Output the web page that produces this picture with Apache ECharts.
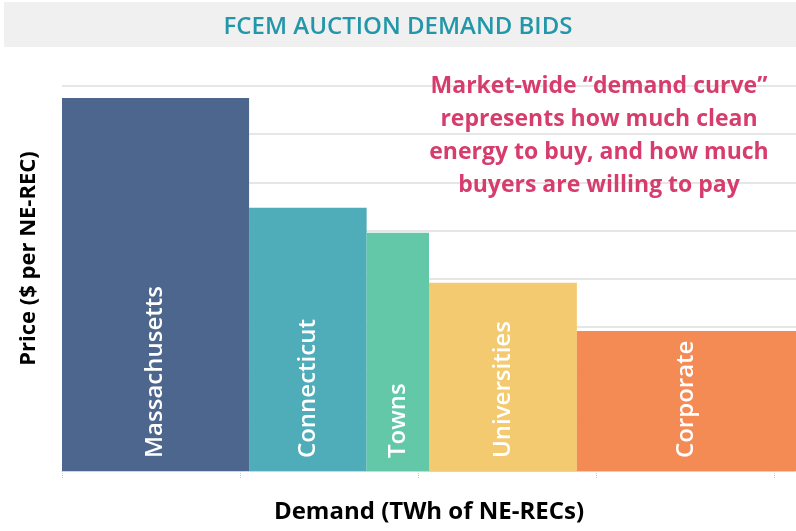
<!DOCTYPE html>
<html>
<head>
<meta charset="utf-8">
<script src="https://cdn.jsdelivr.net/npm/echarts@6/dist/echarts.min.js"></script>
<style>
  html, body { margin: 0; padding: 0; background: #fff; }
  #chart { width: 796px; height: 531px; }
</style>
</head>
<body>
<div id="chart"></div>
<script>
// buyers, left to right along the demand curve
const buyers = ['Massachusetts', 'Connecticut', 'Towns', 'Universities', 'Corporate']
// demand (width of each block) and price (height)
const demand = [1.05, 0.66, 0.35, 0.83, 1.23]
const price = [7.75, 5.47, 4.95, 3.91, 2.91]
const colors = ['#46618A', '#49AAB7', '#5DC6A5', '#F3C86B', '#F4864E']

// build [start, end, price, index] rows from the demand widths
let acc = 0
const rows = demand.map((d, i) => {
  const row = [acc, acc + d, price[i], i]
  acc += d
  return row
})

const chart = echarts.init(document.getElementById('chart'))

const option = {
  animation: false,
  title: {
    text: 'FCEM AUCTION DEMAND BIDS',
    left: 'center',
    top: 10,
    textStyle: {
      color: '#2197A9',
      fontFamily: 'Open Sans',
      fontWeight: 600,
      fontSize: 24
    }
  },
  graphic: [
    {
      type: 'rect',
      z: -10,
      shape: { x: 4, y: 2, width: 792, height: 45 },
      style: { fill: '#F0F0F0' }
    },
    {
      type: 'text',
      x: 599,
      y: 70,
      z: 10,
      style: {
        text: 'Market-wide \u201cdemand curve\u201d\nrepresents how much clean\nenergy to buy, and how much\nbuyers are willing to pay',
        fill: '#D63C6E',
        font: 'bold 23px "Open Sans"',
        align: 'center',
        verticalAlign: 'top',
        lineHeight: 33
      }
    }
  ],
  grid: {
    left: 62,
    right: 0,
    top: 86,
    bottom: 60
  },
  xAxis: {
    type: 'value',
    min: 0,
    max: 4.12,
    interval: 1,
    name: 'Demand (TWh of NE-RECs)',
    nameLocation: 'middle',
    nameGap: 29,
    nameTextStyle: {
      color: '#000',
      fontFamily: 'Open Sans',
      fontWeight: 'bold',
      fontSize: 24
    },
    axisLine: { show: true, lineStyle: { color: '#D0D0D0', type: 'dotted' } },
    axisTick: { show: true, length: 8, lineStyle: { color: '#C8C8C8', type: 'dotted' } },
    axisLabel: { show: false },
    splitLine: { show: false }
  },
  yAxis: {
    type: 'value',
    min: 0,
    max: 8,
    interval: 1,
    name: 'Price ($ per NE-REC)',
    nameLocation: 'middle',
    nameGap: 22,
    nameTextStyle: {
      color: '#000',
      fontFamily: 'Open Sans',
      fontWeight: 'bold',
      fontSize: 22,
      padding: [0, 0, 0, 40]
    },
    axisLine: { show: false },
    axisTick: { show: false },
    axisLabel: { show: false },
    splitLine: { lineStyle: { color: '#E6E6E6', width: 2 } }
  },
  series: [
    {
      type: 'custom',
      data: rows,
      encode: { x: [0, 1], y: 2 },
      renderItem: (params, api) => {
        const p0 = api.coord([api.value(0), api.value(2)])
        const p1 = api.coord([api.value(1), 0])
        const i = api.value(3)
        const cx = (p0[0] + p1[0]) / 2
        return {
          type: 'group',
          children: [
            {
              type: 'rect',
              shape: { x: p0[0], y: p0[1], width: p1[0] - p0[0], height: p1[1] - p0[1] },
              style: { fill: colors[i], opacity: 0.97 }
            },
            {
              type: 'text',
              x: cx,
              y: p1[1] - 13,
              rotation: Math.PI / 2,
              style: {
                text: buyers[i],
                fill: '#fff',
                font: '600 24px "Open Sans"',
                align: 'left',
                verticalAlign: 'middle'
              }
            }
          ]
        }
      }
    }
  ]
}

chart.setOption(option)
</script>
</body>
</html>
